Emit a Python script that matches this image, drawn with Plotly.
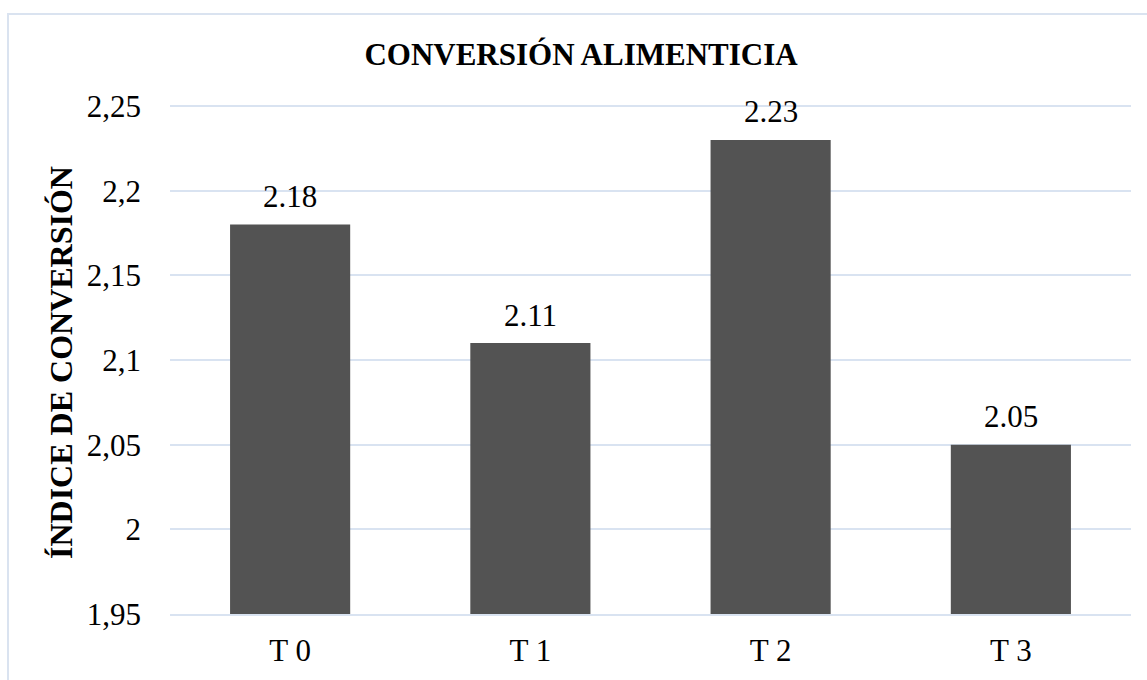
import plotly.graph_objects as go

categories = ["T 0", "T 1", "T 2", "T 3"]
values = [2.18, 2.11, 2.23, 2.05]
value_labels = ["2.18", "2.11", "2.23", "2.05"]
tick_vals = [1.95, 2.0, 2.05, 2.1, 2.15, 2.2, 2.25]
tick_text = ["1,95", "2", "2,05", "2,1", "2,15", "2,2", "2,25"]

W, H = 1147, 680
ML, MR, MT, MB = 170, 16, 105, 66
PW, PH = W - ML - MR, H - MT - MB

def px_to_paper_x(px):
    return (px - ML) / PW

def px_to_paper_y(py):
    return (H - MB - py) / PH

FONT = "Liberation Serif, Times New Roman, serif"
GRID = "#d9e3f1"

fig = go.Figure()
fig.add_trace(go.Bar(
    x=categories, y=values,
    marker=dict(color="#535353", line=dict(width=0)),
    width=0.5,
    hoverinfo="x+y",
))

for c, v, t in zip(categories, values, value_labels):
    fig.add_annotation(x=c, y=v, text=t, showarrow=False, yshift=28,
                       font=dict(family=FONT, size=31, color="#000000"),
                       xanchor="center", yanchor="middle")

fig.add_annotation(
    text="<b>ÍNDICE DE CONVERSIÓN</b>", textangle=-90, showarrow=False,
    xref="paper", yref="paper",
    x=px_to_paper_x(61), y=px_to_paper_y(363),
    xanchor="center", yanchor="middle",
    font=dict(family=FONT, size=32, color="#000000"),
)

fig.add_shape(
    type="rect", xref="paper", yref="paper",
    x0=px_to_paper_x(8), x1=px_to_paper_x(1165),
    y0=px_to_paper_y(14), y1=px_to_paper_y(700),
    line=dict(color="#dae3f0", width=2), fillcolor="rgba(0,0,0,0)",
    layer="below",
)

fig.update_layout(
    width=W, height=H,
    margin=dict(l=ML, r=MR, t=MT, b=MB, pad=0, autoexpand=False),
    paper_bgcolor="#ffffff", plot_bgcolor="#ffffff",
    showlegend=False,
    bargap=0.5,
    title=dict(
        text="<b>CONVERSIÓN ALIMENTICIA</b>",
        x=581 / W, xref="container", xanchor="center",
        y=1 - 54 / H, yref="container", yanchor="middle",
        font=dict(family=FONT, size=31, color="#000000"),
    ),
    font=dict(family=FONT, size=31, color="#000000"),
)
fig.update_yaxes(
    range=[1.95, 2.2506], tickvals=tick_vals, ticktext=tick_text,
    showgrid=True, gridcolor=GRID, gridwidth=1.5,
    zeroline=False, showline=False, ticks="",
    ticklabelstandoff=28, automargin=False,
    tickfont=dict(family=FONT, size=31, color="#000000"),
)
fig.update_xaxes(
    showgrid=False, zeroline=False, ticks="",
    showline=True, linecolor=GRID, linewidth=1.5,
    ticklabelstandoff=8, automargin=False,
    tickfont=dict(family=FONT, size=31, color="#000000"),
)

fig.write_html("out.html")
